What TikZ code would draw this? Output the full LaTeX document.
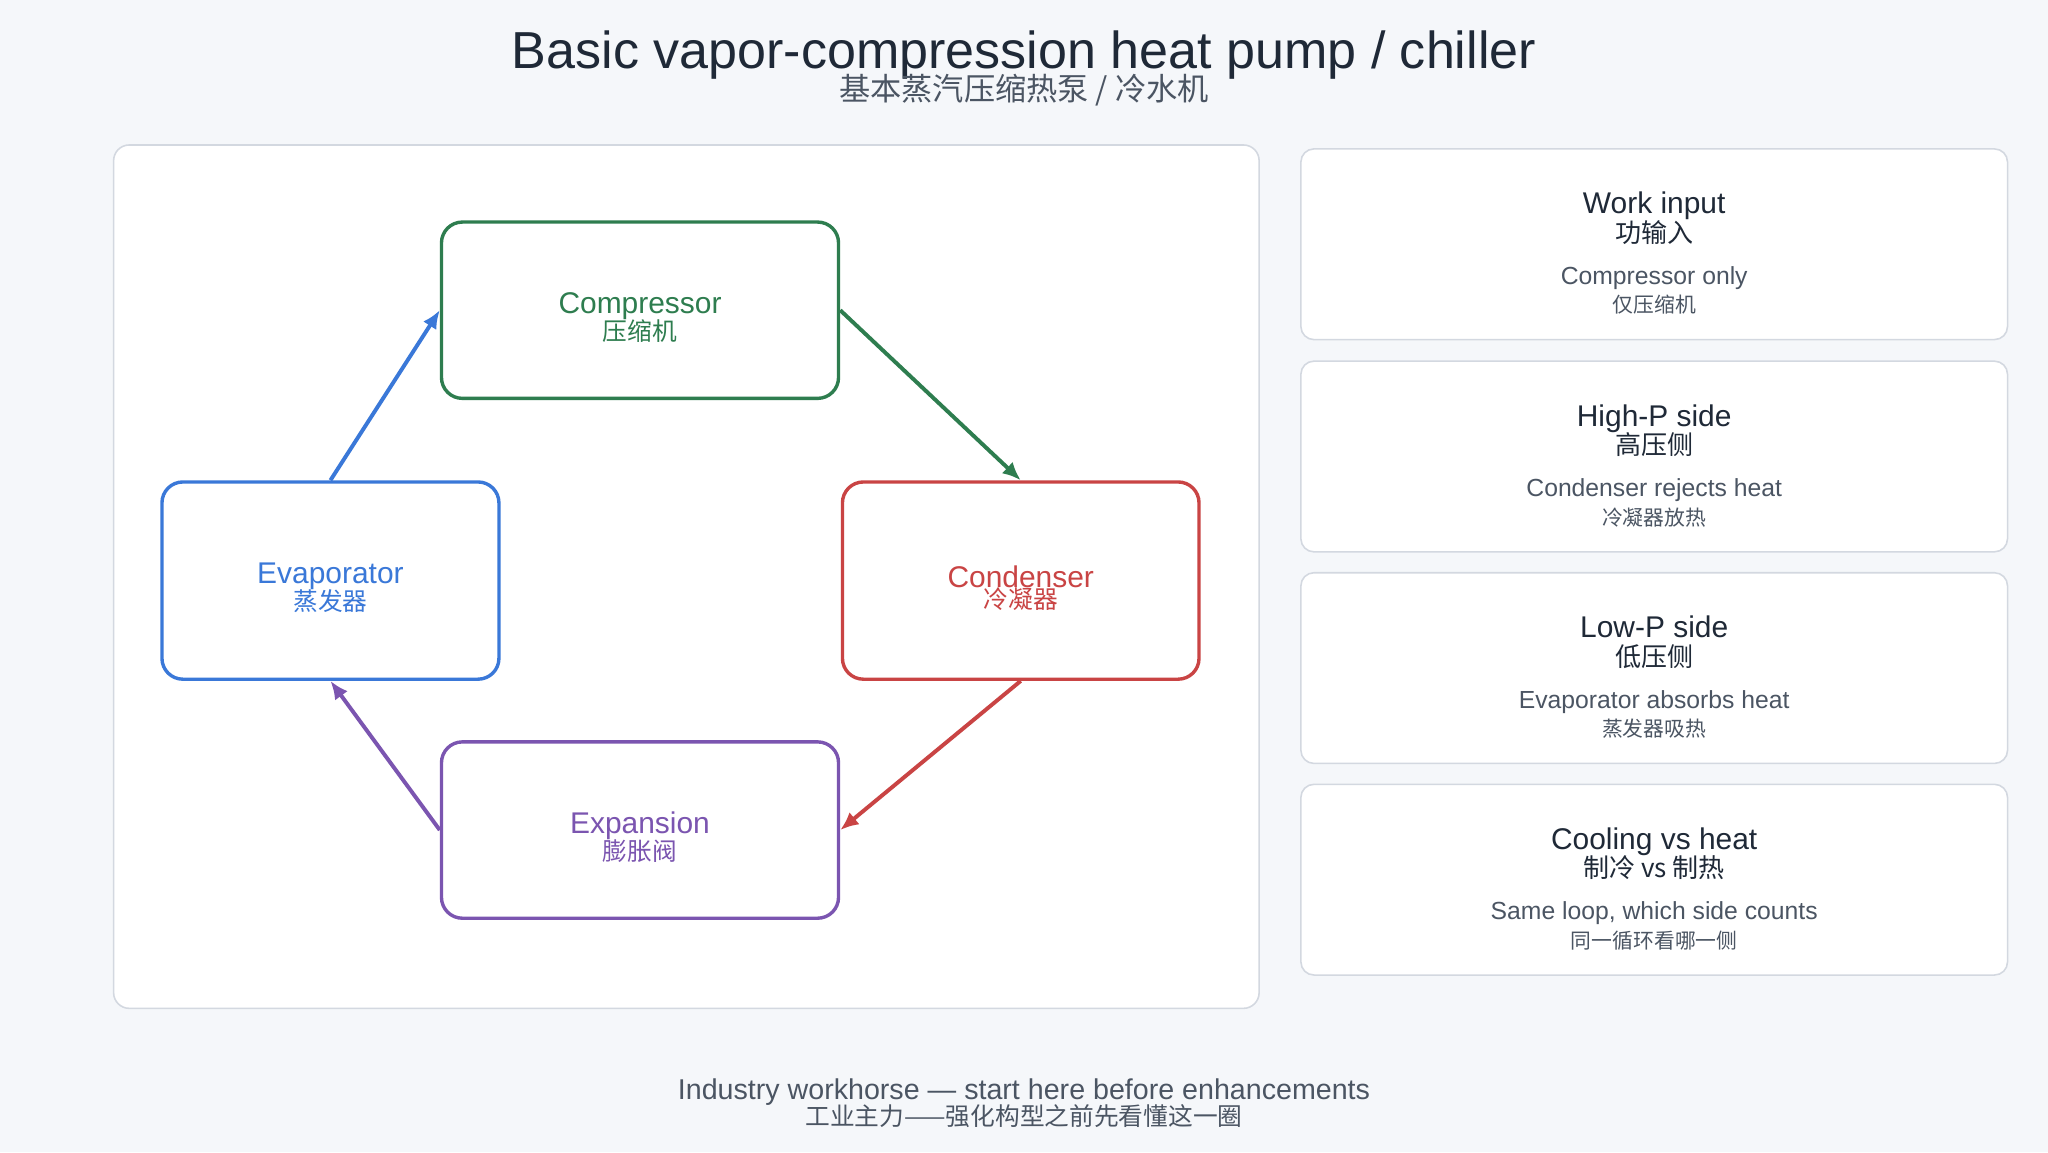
\documentclass[tikz,border=0pt]{standalone}
\usepackage{fontspec}
\setmainfont{Liberation Sans}
\newfontfamily\cjk{Noto Sans CJK SC}
\usetikzlibrary{positioning,calc,arrows.meta}
\definecolor{bgc}{HTML}{F5F7FA}
\definecolor{edgec}{HTML}{D3D8E0}
\definecolor{inkc}{HTML}{1F2937}
\definecolor{grayc}{HTML}{4B5563}
\definecolor{compc}{HTML}{2E7D4F}
\definecolor{condc}{HTML}{C94444}
\definecolor{evapc}{HTML}{3A78D8}
\definecolor{expc}{HTML}{7B55B0}
\begin{document}
\begin{tikzpicture}[x=0.5bp,y=-0.5bp]
\tikzset{PART/.style={draw=#1,text=#1,line width=1.3bp,rounded corners=8bp,fill=white,align=center,font=\fontsize{11.5}{11.5}\selectfont}}
\tikzset{CARD/.style={draw=edgec,line width=0.6bp,rounded corners=5bp,fill=white,minimum width=270.5bp,minimum height=73bp,text=inkc}}
\tikzset{FLOW/.style={draw=#1,line width=1.5bp,-{Latex[length=7bp,width=6bp]}}}

\fill[bgc] (0,0) rectangle (1568,882);
\node[draw=edgec,line width=0.6bp,rounded corners=6bp,fill=white,minimum width=438.5bp,minimum height=330.5bp] (panel) at (525.5,441.5) {};

\node[text=inkc,font=\fontsize{20}{20}\selectfont] (title) at (784,42) {Basic vapor-compression heat pump / chiller};
\node[text=grayc,font=\cjk\fontsize{12}{12}\selectfont] (subtitle) at (784,69) {基本蒸汽压缩热泵 / 冷水机};

\node[PART=compc,minimum width=152bp,minimum height=67.5bp] (comp) at (490,237.5) {};
\node[PART=condc,minimum width=136.5bp,minimum height=75.5bp] (cond) at (781.5,444.5) {};
\node[PART=evapc,minimum width=129bp,minimum height=75.5bp] (evap) at (253,444.5) {};
\node[PART=expc,minimum width=152bp,minimum height=67.5bp] (exp) at (490,635.5) {};
\node[text=compc,align=center,font=\fontsize{11.5}{11.5}\selectfont] (comptext) at (490,243) {Compressor\\[-1bp]{\cjk\fontsize{9.5}{10}\selectfont 压缩机}};
\node[text=condc,align=center,font=\fontsize{11.5}{11.5}\selectfont] (condtext) at (781.5,450) {Condenser\\[-3.5bp]{\cjk\fontsize{9.5}{10}\selectfont 冷凝器}};
\node[text=evapc,align=center,font=\fontsize{11.5}{11.5}\selectfont] (evaptext) at (253,450) {Evaporator\\[-1bp]{\cjk\fontsize{9.5}{10}\selectfont 蒸发器}};
\node[text=expc,align=center,font=\fontsize{11.5}{11.5}\selectfont] (exptext) at (490,641) {Expansion\\[-1bp]{\cjk\fontsize{9.5}{10}\selectfont 膨胀阀}};

\draw[FLOW=evapc] (evap.north) -- (comp.west);
\draw[FLOW=compc] (comp.east) -- (cond.north);
\draw[FLOW=condc] (cond.south) -- (exp.east);
\draw[FLOW=expc] (exp.west) -- (evap.south);

% right column
\foreach \name/\y/\head/\headcn/\body/\bodycn in {
  work/187/Work input/功输入/Compressor only/仅压缩机,
  high/349.5/High-P side/高压侧/Condenser rejects heat/冷凝器放热,
  low/511.5/Low-P side/低压侧/Evaporator absorbs heat/蒸发器吸热,
  mode/673.5/Cooling vs heat/制冷 vs 制热/{Same loop, which side counts}/同一循环看哪一侧}{
  \node[CARD] (\name) at (1266.5,\y) {};
  \node[text=inkc,align=center] (\name text) at ($(\name.center)+(0,7)$) {{\fontsize{11.5}{12}\selectfont \head}\\[-1bp]
    {\cjk\fontsize{10}{11}\selectfont \headcn}\\[4bp]
    {\color{grayc}\fontsize{9.5}{10}\selectfont \body}\\[-1bp]
    {\color{grayc}\cjk\fontsize{8}{9}\selectfont \bodycn}};
}

\node[text=grayc,align=center] (footer) at (784,845) {{\fontsize{11}{11}\selectfont Industry workhorse — start here before enhancements}\\[-2bp]{\cjk\fontsize{9.5}{10}\selectfont 工业主力——强化构型之前先看懂这一圈}};
\end{tikzpicture}
\end{document}
